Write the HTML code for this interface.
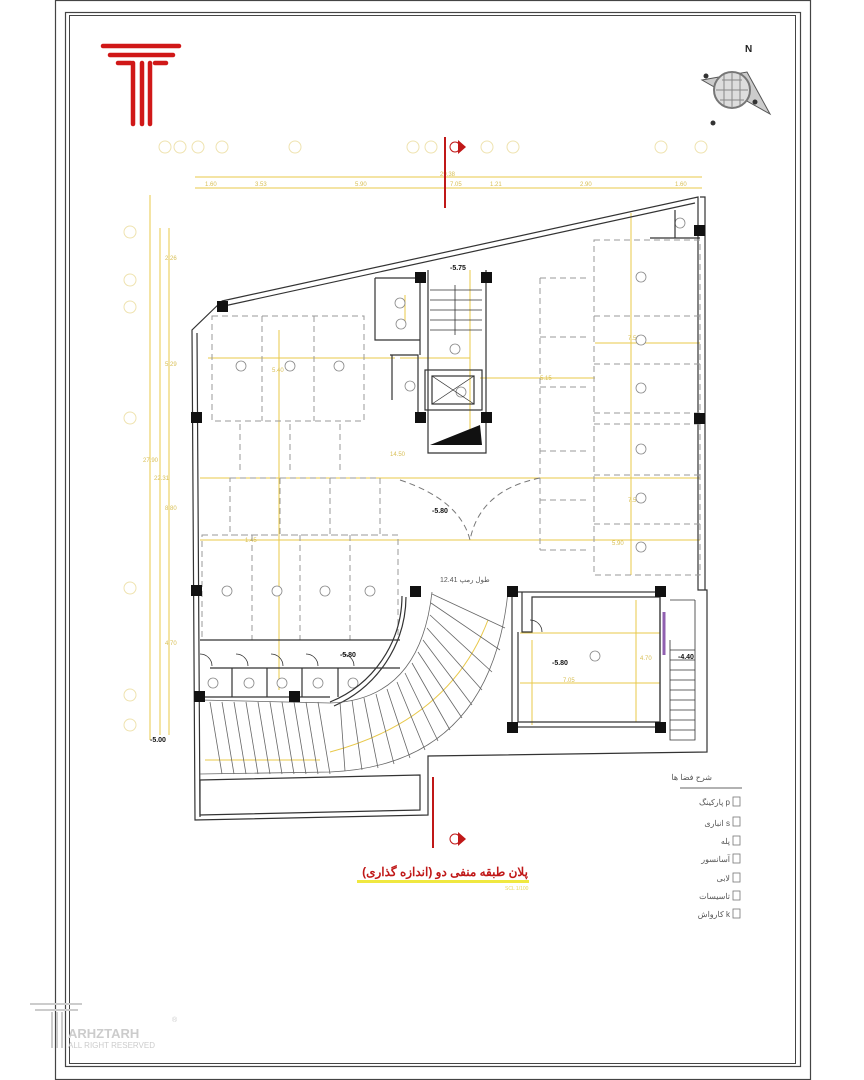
<!DOCTYPE html>
<html><head><meta charset="utf-8"><style>
html,body{margin:0;padding:0;background:#fff}
svg{display:block}
text{font-family:"Liberation Sans","Noto Sans CJK SC",sans-serif}
</style></head><body>
<svg width="864" height="1080" viewBox="0 0 864 1080" xmlns="http://www.w3.org/2000/svg">
<rect width="864" height="1080" fill="#fff"/>
<!-- frames -->
<rect x="55.5" y="0.5" width="755" height="1079" fill="none" stroke="#444" stroke-width="1.2"/>
<rect x="65.5" y="12.5" width="735" height="1054" fill="none" stroke="#444" stroke-width="1.2"/>
<rect x="69.5" y="15.5" width="726" height="1048" fill="none" stroke="#444" stroke-width="1"/>

<!-- logo -->
<g stroke="#d01818" stroke-width="4.5" stroke-linecap="round">
<line x1="103" y1="46" x2="179" y2="46"/>
<line x1="110" y1="55" x2="173" y2="55"/>
<line x1="118" y1="63" x2="131" y2="63"/><line x1="155" y1="63" x2="166" y2="63"/>
<line x1="133" y1="63" x2="133" y2="124"/><line x1="142" y1="63" x2="142" y2="124"/><line x1="150" y1="63" x2="150" y2="124"/>
</g>

<!-- compass -->
<polygon points="702,80 747,72 770,114 745,100 733,88 716,88" fill="#ccc" stroke="#555" stroke-width="1"/>
<circle cx="732" cy="90" r="18" fill="#ddd" stroke="#777" stroke-width="2"/>
<path d="M722 80 h20 M716 90 h32 M720 100 h24 M732 72 v36 M724 75 v30 M740 75 v30" stroke="#888" stroke-width="1" fill="none"/>
<circle cx="706" cy="76" r="2.5" fill="#333"/><circle cx="755" cy="102" r="2.5" fill="#333"/><circle cx="713" cy="123" r="2.5" fill="#333"/>
<text x="745" y="52" font-size="10" fill="#222" font-weight="bold">N</text>

<!-- grid bubbles top -->
<g fill="none" stroke="#efe3b0" stroke-width="1">
<circle cx="165" cy="147" r="6"/><circle cx="180" cy="147" r="6"/><circle cx="198" cy="147" r="6"/><circle cx="222" cy="147" r="6"/><circle cx="295" cy="147" r="6"/><circle cx="413" cy="147" r="6"/><circle cx="431" cy="147" r="6"/><circle cx="487" cy="147" r="6"/><circle cx="513" cy="147" r="6"/><circle cx="661" cy="147" r="6"/><circle cx="701" cy="147" r="6"/>
<circle cx="130" cy="232" r="6"/><circle cx="130" cy="280" r="6"/><circle cx="130" cy="307" r="6"/><circle cx="130" cy="418" r="6"/><circle cx="130" cy="588" r="6"/><circle cx="130" cy="695" r="6"/><circle cx="130" cy="725" r="6"/>
</g>
<!-- dimension lines -->
<g stroke="#e8c84a" stroke-width="1" fill="none">
<line x1="195" y1="177" x2="702" y2="177"/>
<line x1="195" y1="188" x2="702" y2="188"/>
<line x1="150" y1="195" x2="150" y2="740"/>
<line x1="160" y1="228" x2="160" y2="735"/>
<line x1="169" y1="228" x2="169" y2="735"/>
<!-- interior -->
<line x1="208" y1="358" x2="395" y2="358"/>
<line x1="279" y1="330" x2="279" y2="690"/>
<line x1="400" y1="358" x2="470" y2="358"/>
<line x1="200" y1="478" x2="700" y2="478"/>
<line x1="200" y1="540" x2="700" y2="540"/>
<line x1="480" y1="378" x2="595" y2="378"/>
<line x1="631" y1="213" x2="631" y2="575"/>
<line x1="595" y1="343" x2="700" y2="343"/>
<line x1="520" y1="633" x2="660" y2="633"/>
<line x1="520" y1="683" x2="660" y2="683"/>
<line x1="636" y1="600" x2="636" y2="722"/>
<line x1="532" y1="640" x2="532" y2="725"/>
<line x1="205" y1="760" x2="320" y2="760"/>
<path d="M330 752 Q450 720 488 620"/>
<line x1="470" y1="270" x2="470" y2="440"/>
<line x1="405" y1="295" x2="405" y2="325"/>
</g>
<!-- dim text -->
<g fill="#d8bf55" font-size="6">
<text x="205" y="186">1.60</text><text x="255" y="186">3.53</text><text x="355" y="186">5.90</text><text x="450" y="186">7.05</text><text x="490" y="186">1.21</text><text x="580" y="186">2.90</text><text x="675" y="186">1.60</text>
<text x="440" y="176">29.38</text>
<text x="165" y="260">2.26</text><text x="165" y="366">5.29</text><text x="165" y="510">8.80</text><text x="165" y="645">4.70</text>
<text x="143" y="462">27.90</text><text x="154" y="480">22.31</text>
<text x="272" y="372">5.40</text><text x="390" y="456">14.50</text><text x="540" y="380">5.15</text><text x="628" y="340">7.50</text><text x="628" y="502">7.50</text><text x="612" y="545">5.90</text>
<text x="563" y="682">7.05</text><text x="640" y="660">4.70</text><text x="245" y="542">1.45</text>
</g>

<!-- red section lines -->
<g stroke="#c01818" stroke-width="2">
<line x1="445" y1="137" x2="445" y2="208"/>
<line x1="433" y1="777" x2="433" y2="848"/>
</g>
<circle cx="455" cy="147" r="5" fill="none" stroke="#c01818"/><path d="M458 140 l8 7 -8 7z" fill="#c01818"/>
<circle cx="455" cy="839" r="5" fill="none" stroke="#c01818"/><path d="M458 832 l8 7 -8 7z" fill="#c01818"/>

<!-- building outline -->
<g fill="none" stroke="#333" stroke-width="1.2">
<path d="M222 301 L698 197 L698 590 L707 590 L707 752 L428 756 L428 815 L195 820 L192 330 Z"/>
<path d="M224 306 L695 203 M197 333 L200 817"/>
<path d="M700 197 L705 197 L705 590"/>
<path d="M200 780 L420 775 L420 810 L200 815 Z"/>
</g>

<!-- parking dashed -->
<g fill="none" stroke="#999" stroke-width="1" stroke-dasharray="6,4">
<rect x="212" y="316" width="152" height="105"/>
<line x1="262" y1="316" x2="262" y2="421"/><line x1="314" y1="316" x2="314" y2="421"/>
<rect x="230" y="478" width="150" height="57"/>
<line x1="280" y1="478" x2="280" y2="535"/><line x1="330" y1="478" x2="330" y2="535"/>
<rect x="202" y="535" width="196" height="105"/>
<line x1="252" y1="535" x2="252" y2="640"/><line x1="300" y1="535" x2="300" y2="640"/><line x1="350" y1="535" x2="350" y2="640"/>
<rect x="594" y="240" width="106" height="335"/>
<line x1="594" y1="316" x2="700" y2="316"/><line x1="594" y1="364" x2="700" y2="364"/><line x1="594" y1="413" x2="700" y2="413"/><line x1="594" y1="424" x2="700" y2="424"/><line x1="594" y1="475" x2="700" y2="475"/><line x1="594" y1="524" x2="700" y2="524"/>
<path d="M540 278 L540 550"/>
<path d="M540 278 h50 M540 337 h50 M540 387 h50 M540 451 h50 M540 500 h50 M540 550 h50"/>
<path d="M240 424 v50 M290 424 v50 M340 424 v50"/>
<path d="M400 480 Q460 500 470 540 Q480 490 540 478" stroke="#777"/>
</g>
<g fill="#fff" stroke="#888" stroke-width="0.8">
<circle cx="241" cy="366" r="5"/><circle cx="290" cy="366" r="5"/><circle cx="339" cy="366" r="5"/>
<circle cx="227" cy="591" r="5"/><circle cx="277" cy="591" r="5"/><circle cx="325" cy="591" r="5"/><circle cx="370" cy="591" r="5"/>
<circle cx="641" cy="277" r="5"/><circle cx="641" cy="340" r="5"/><circle cx="641" cy="388" r="5"/><circle cx="641" cy="449" r="5"/><circle cx="641" cy="498" r="5"/><circle cx="641" cy="547" r="5"/>
<circle cx="680" cy="223" r="5"/><circle cx="595" cy="656" r="5"/><circle cx="455" cy="349" r="5"/>
<circle cx="400" cy="303" r="5"/><circle cx="401" cy="324" r="5"/><circle cx="410" cy="386" r="5"/><circle cx="461" cy="392" r="5"/>
<circle cx="213" cy="683" r="5"/><circle cx="249" cy="683" r="5"/><circle cx="282" cy="683" r="5"/><circle cx="318" cy="683" r="5"/><circle cx="353" cy="683" r="5"/>
</g>

<!-- core -->
<g fill="none" stroke="#333" stroke-width="1.2">
<path d="M428 270 V453 H486 V270"/>
<path d="M375 278 H420 V355 M375 278 V340 H420 M390 355 H418 V415 M392 355 V400"/>
<rect x="425" y="370" width="57" height="40"/>
<rect x="432" y="376" width="42" height="28"/>
<path d="M432 376 L474 404 M474 376 L432 404" stroke-width="0.7"/>
<path d="M430 290 H482 M430 300 H482 M430 310 H482 M430 320 H482 M430 330 H482 M455 285 V335" stroke-width="0.8"/>
<path d="M675 210 V238 H700 M650 238 H675" />
</g>
<path d="M430 445 L480 425 L482 445 Z" fill="#111"/>

<!-- shops bottom-left -->
<g fill="none" stroke="#333" stroke-width="1.2">
<path d="M200 640 H400 M200 697 H330 M210 668 H400"/>
<path d="M232 668 V697 M267 668 V697 M302 668 V697 M338 668 V697"/>
<path d="M200 654 a12 12 0 0 1 12 12 M236 654 a12 12 0 0 1 12 12 M271 654 a12 12 0 0 1 12 12 M306 654 a12 12 0 0 1 12 12 M342 654 a12 12 0 0 1 12 12" stroke-width="0.8"/>
<path d="M402 596 A115 115 0 0 1 330 702" />
<path d="M406 597 A120 120 0 0 1 334 706" />
</g>

<!-- ramp -->
<g fill="none" stroke="#666" stroke-width="0.8">
<path d="M200 700 L330 703 Q420 700 432 592"/>
<path d="M200 774 L330 772 Q490 765 508 592"/>
<path d="M210 702 l12 72 M222 702 l12 72 M234 702 l12 72 M246 702 l12 72 M258 702 l12 72 M270 702 l12 72 M282 702 l12 72 M294 702 l12 72 M306 702 l12 72 M318 702 l12 72"/>
<path d="M340 702 L345 771 M352 700 L362 770 M364 698 L378 768 M376 694 L394 764 M387 689 L410 758 M397 682 L425 750 M405 673 L438 741 M412 663 L450 730 M418 652 L462 718 M423 640 L472 705 M427 628 L482 690 M430 615 L492 672 M431 603 L500 650 M432 594 L505 628"/>
</g>

<!-- right room -->
<g fill="none" stroke="#333" stroke-width="1.2">
<rect x="512" y="592" width="148" height="135"/>
<path d="M522 592 V632 H532 V597 H660 V722 H518 V632"/>
<path d="M530 620 a12 12 0 0 1 12 12" stroke-width="0.8"/>
<path d="M670 600 H695 M670 640 V740 H695 V600 M670 650 H695 M670 660 H695 M670 670 H695 M670 680 H695 M670 690 H695 M670 700 H695 M670 710 H695 M670 720 H695 M670 730 H695" stroke-width="0.8"/>
</g>
<line x1="664" y1="612" x2="664" y2="655" stroke="#9060b0" stroke-width="3"/>

<!-- columns -->
<g fill="#111">
<rect x="217" y="301" width="11" height="11"/><rect x="191" y="412" width="11" height="11"/>
<rect x="415" y="272" width="11" height="11"/><rect x="481" y="272" width="11" height="11"/>
<rect x="415" y="412" width="11" height="11"/><rect x="481" y="412" width="11" height="11"/>
<rect x="694" y="225" width="11" height="11"/><rect x="694" y="413" width="11" height="11"/>
<rect x="191" y="585" width="11" height="11"/><rect x="194" y="691" width="11" height="11"/><rect x="289" y="691" width="11" height="11"/>
<rect x="410" y="586" width="11" height="11"/><rect x="507" y="586" width="11" height="11"/><rect x="655" y="586" width="11" height="11"/>
<rect x="507" y="722" width="11" height="11"/><rect x="655" y="722" width="11" height="11"/>
</g>

<!-- level marks -->
<g font-size="7" fill="#111" font-weight="bold">
<text x="450" y="270">-5.75</text><text x="432" y="513">-5.80</text><text x="340" y="657">-5.80</text><text x="552" y="665">-5.80</text><text x="678" y="659">-4.40</text><text x="150" y="742">-5.00</text>
</g>
<text x="440" y="582" font-size="7" fill="#555">طول رمپ 12.41</text>

<!-- title -->
<text x="445" y="876" font-size="12" fill="#c01818" font-weight="bold" text-anchor="middle" font-family="'Liberation Sans','Noto Sans CJK SC',sans-serif">پلان طبقه منفی دو (اندازه گذاری)</text>
<rect x="357" y="880" width="172" height="3" fill="#f0e840"/>
<text x="505" y="890" font-size="5" fill="#e8d860">SCL 1/100</text>

<!-- legend -->
<g font-size="8" fill="#555" text-anchor="end">
<text x="712" y="780">شرح فضا ها</text>
<line x1="680" y1="788" x2="742" y2="788" stroke="#666"/>
<text x="730" y="805">پارکینگ p</text>
<text x="730" y="826">انباری s</text>
<text x="730" y="844">پله</text>
<text x="730" y="862">آسانسور</text>
<text x="730" y="881">لابی</text>
<text x="730" y="899">تاسیسات</text>
<text x="730" y="917">کارواش k</text>
</g>
<g fill="none" stroke="#777" stroke-width="0.8">
<rect x="733" y="797" width="7" height="9"/><rect x="733" y="817" width="7" height="9"/><rect x="733" y="836" width="7" height="9"/><rect x="733" y="854" width="7" height="9"/><rect x="733" y="873" width="7" height="9"/><rect x="733" y="891" width="7" height="9"/><rect x="733" y="909" width="7" height="9"/>
</g>

<!-- watermark -->
<g stroke="#ccc" stroke-width="2" fill="none">
<line x1="30" y1="1004" x2="82" y2="1004"/><line x1="35" y1="1010" x2="78" y2="1010"/>
<line x1="52" y1="1012" x2="52" y2="1048"/><line x1="57" y1="1012" x2="57" y2="1048"/><line x1="62" y1="1012" x2="62" y2="1048"/>
</g>
<text x="68" y="1038" font-size="13" fill="#ccc" font-weight="bold">ARHZTARH</text>
<text x="68" y="1048" font-size="8" fill="#ccc">ALL RIGHT RESERVED</text>
<text x="172" y="1022" font-size="7" fill="#ccc">®</text>
</svg>
</body></html>
